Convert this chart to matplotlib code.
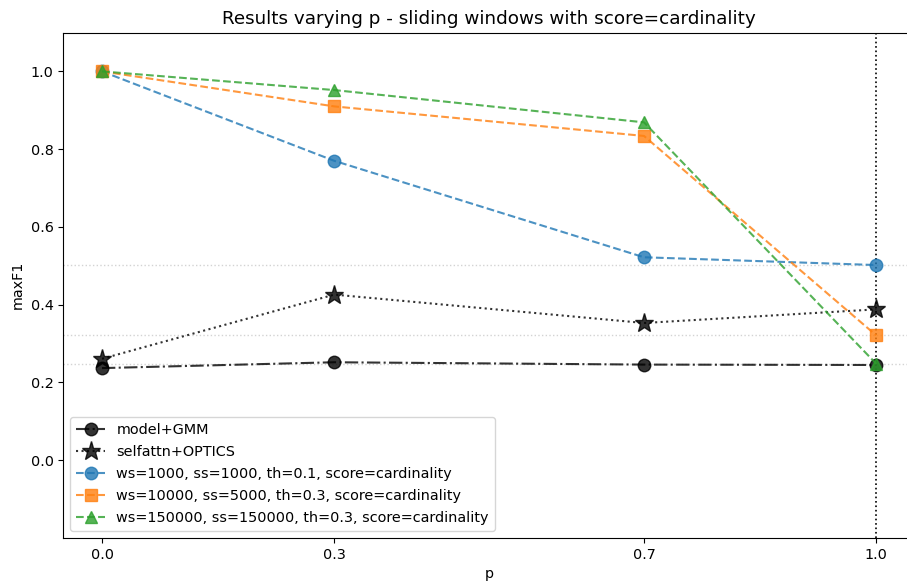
import matplotlib
matplotlib.use("Agg")
import matplotlib.pyplot as plt

# p values and maxF1 results
p_values = [0.0, 0.3, 0.7, 1.0]
x_ticklabels = ["0.0", "0.3", "0.7", "1.0"]

gmm_f1 = [0.237, 0.252, 0.246, 0.245]
optics_f1 = [0.261, 0.426, 0.353, 0.388]
ws1000_f1 = [1.0, 0.770, 0.522, 0.502]
ws10000_f1 = [1.0, 0.910, 0.834, 0.321]
ws150000_f1 = [1.0, 0.952, 0.869, 0.248]

labels = [
    "model+GMM",
    "selfattn+OPTICS",
    "ws=1000, ss=1000, th=0.1, score=cardinality",
    "ws=10000, ss=5000, th=0.3, score=cardinality",
    "ws=150000, ss=150000, th=0.3, score=cardinality",
]

plt.rcParams["font.size"] = 10.4

fig = plt.figure(figsize=(9.07, 5.88), dpi=100)
ax = fig.add_axes([0.0698, 0.085, 0.939, 0.8597])

ax.plot(p_values, gmm_f1, linestyle="-.", marker="o", color="black",
        alpha=0.8, markersize=9, label=labels[0])
ax.plot(p_values, optics_f1, linestyle=":", marker="*", color="black",
        alpha=0.8, markersize=14, label=labels[1])
ax.plot(p_values, ws1000_f1, linestyle="--", marker="o", color="C0",
        alpha=0.8, markersize=9, label=labels[2])
ax.plot(p_values, ws10000_f1, linestyle="--", marker="s", color="C1",
        alpha=0.8, markersize=9, label=labels[3])
ax.plot(p_values, ws150000_f1, linestyle="--", marker="^", color="C2",
        alpha=0.8, markersize=9, label=labels[4])

# reference levels at p=1.0 for the sliding-window runs
for series in (ws1000_f1, ws10000_f1, ws150000_f1):
    ax.axhline(series[-1], color="lightgray", linestyle=":", linewidth=1, zorder=0)
ax.axvline(1.0, color="black", linestyle=":", linewidth=1.2, zorder=0)

ax.set_xlim(-0.05, 1.05)
ax.set_ylim(-0.2, 1.1)
ax.set_xticks(p_values)
ax.set_xticklabels(x_ticklabels)
ax.set_yticks([0.0, 0.2, 0.4, 0.6, 0.8, 1.0])
ax.set_xlabel("p")
ax.set_ylabel("maxF1")
ax.set_title("Results varying p - sliding windows with score=cardinality", fontsize=13.2)
ax.legend(loc="lower left", fontsize=10.35, labelspacing=0.56)

fig.savefig("out.png", dpi=100)
